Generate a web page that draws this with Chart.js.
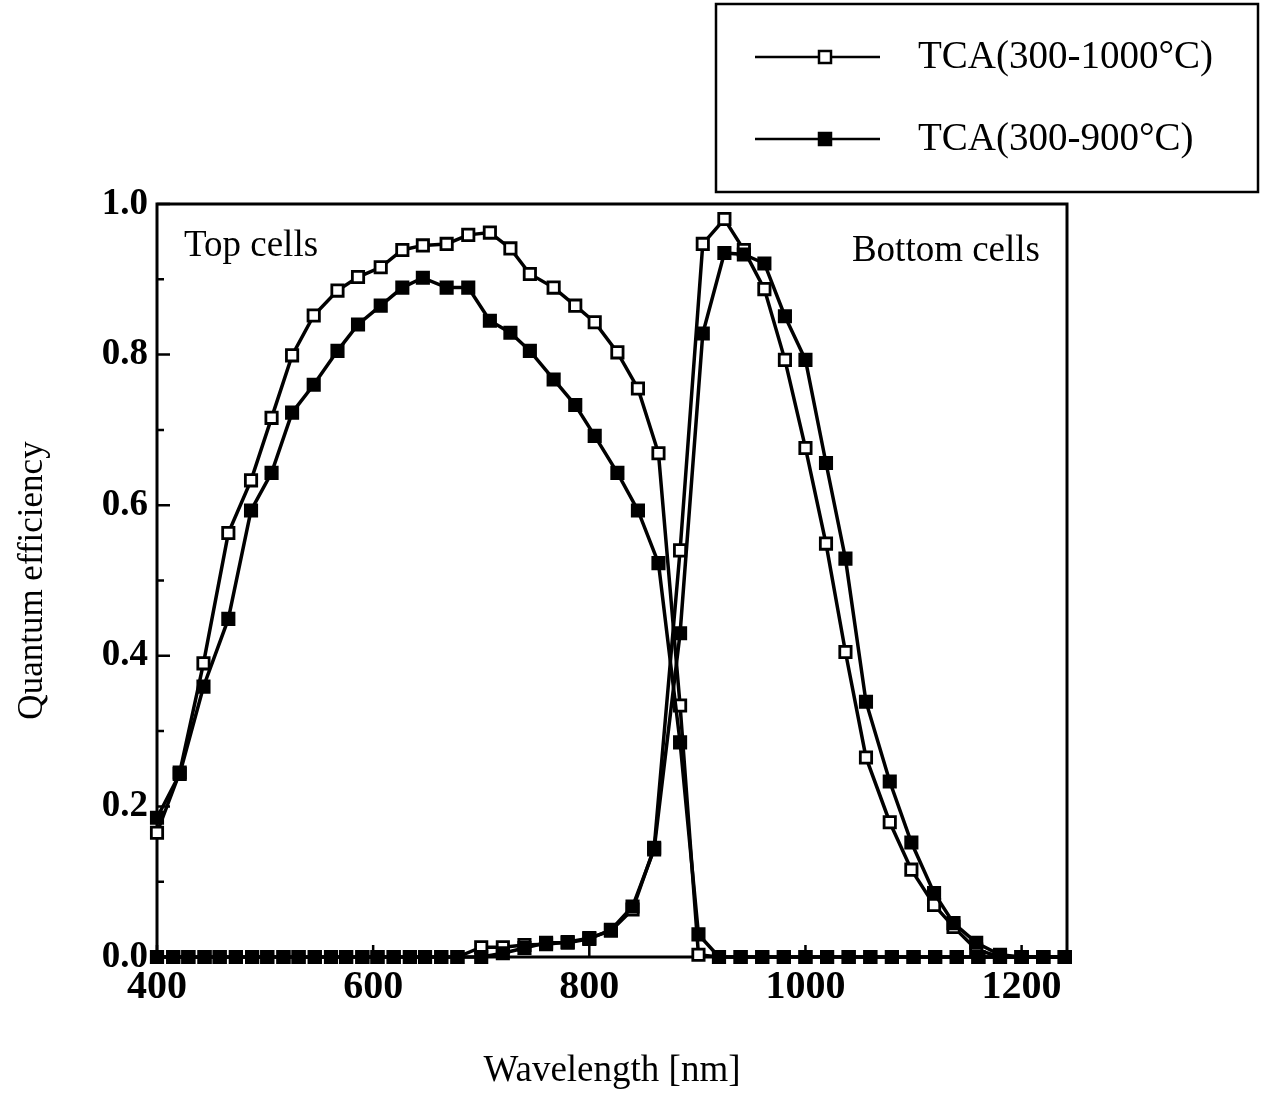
<!DOCTYPE html>
<html>
<head>
<meta charset="utf-8">
<script src="https://cdn.jsdelivr.net/npm/chart.js@4.4.0/dist/chart.umd.min.js"></script>
<style>
  body { margin: 0; background: #fff; }
</style>
</head>
<body>
<canvas id="mycanvas" width="1265" height="1097"></canvas>
<script>
// series names (legend)
var seriesNames = ['TCA(300-1000°C)', 'TCA(300-900°C)'];

// Top cells: wavelength [nm] and quantum efficiency
var topWl = [400, 421, 443, 466, 487, 506, 525, 545, 567, 586, 607, 627, 646, 668, 688, 708, 727, 745, 767, 787,
  805, 826, 845, 864, 884, 901, 920, 940, 960, 980, 1000, 1020, 1040, 1060, 1080, 1100, 1120, 1140, 1160, 1180,
  1200, 1220, 1240];
var top1000 = [0.165, 0.245, 0.39, 0.563, 0.633, 0.716, 0.799, 0.852, 0.885, 0.903, 0.916, 0.939, 0.945, 0.947,
  0.959, 0.962, 0.941, 0.907, 0.889, 0.865, 0.843, 0.803, 0.755, 0.669, 0.334, 0.003,
  0, 0, 0, 0, 0, 0, 0, 0, 0, 0, 0, 0, 0, 0, 0, 0, 0];
var top900 = [0.185, 0.243, 0.359, 0.449, 0.593, 0.643, 0.723, 0.76, 0.805, 0.84, 0.865, 0.889, 0.902, 0.889,
  0.889, 0.845, 0.829, 0.805, 0.767, 0.733, 0.692, 0.643, 0.593, 0.523, 0.285, 0.03,
  0, 0, 0, 0, 0, 0, 0, 0, 0, 0, 0, 0, 0, 0, 0, 0, 0];

// Bottom cells
var bottomWl = [400, 415, 429, 444, 458, 473, 488, 502, 517, 531, 546, 561, 575, 590, 604, 619, 634, 648, 663, 678,
  700, 720, 740, 760, 780, 800, 820, 840, 860, 884, 905, 925, 943, 962, 981, 1000, 1019, 1037, 1056, 1078,
  1098, 1119, 1137, 1158, 1180, 1200, 1220, 1240];
var bottom1000 = [0, 0, 0, 0, 0, 0, 0, 0, 0, 0, 0, 0, 0, 0, 0, 0, 0, 0, 0, 0,
  0.013, 0.013, 0.016, 0.017, 0.02, 0.025, 0.035, 0.063, 0.145, 0.54, 0.947, 0.98, 0.939, 0.887, 0.793, 0.676,
  0.549, 0.405, 0.265, 0.179, 0.116, 0.069, 0.04, 0.01, 0, 0, 0, 0];
var bottom900 = [0, 0, 0, 0, 0, 0, 0, 0, 0, 0, 0, 0, 0, 0, 0, 0, 0, 0, 0, 0,
  0, 0.005, 0.012, 0.019, 0.019, 0.024, 0.036, 0.067, 0.143, 0.43, 0.828, 0.935, 0.933, 0.921, 0.851, 0.793,
  0.656, 0.529, 0.339, 0.233, 0.152, 0.085, 0.045, 0.019, 0.003, 0, 0, 0];

var xTickLabels = [400, 600, 800, 1000, 1200];
var yTickLabels = [0, 0.2, 0.4, 0.6, 0.8, 1.0];

var serif = '"Liberation Serif", "Times New Roman", serif';

function pts(xs, ys) {
  var out = [];
  for (var i = 0; i < xs.length; i++) out.push({x: xs[i], y: ys[i]});
  return out;
}

function series(label, xs, ys, filled) {
  return {
    label: label,
    data: pts(xs, ys),
    borderColor: '#000',
    borderWidth: 3.5,
    backgroundColor: filled ? '#000' : '#fff',
    pointStyle: 'rect',
    pointRadius: 8,
    pointBorderWidth: 2.8,
    pointBorderColor: '#000',
    pointBackgroundColor: filled ? '#000' : '#fff',
    tension: 0,
    clip: false
  };
}

// frame and inward ticks
var frame = {
  id: 'frame',
  beforeDatasetsDraw: function(chart) {
    var ctx = chart.ctx, a = chart.chartArea;
    var xs = chart.scales.x, ys = chart.scales.y;
    ctx.save();
    ctx.strokeStyle = '#000';
    ctx.lineWidth = 3;
    ctx.strokeRect(a.left, a.top, a.right - a.left, a.bottom - a.top);
    ctx.lineWidth = 2.5;
    ctx.beginPath();
    for (var i = 0; i < yTickLabels.length; i++) {
      var y = ys.getPixelForValue(yTickLabels[i]);
      ctx.moveTo(a.left, y); ctx.lineTo(a.left + 13, y);
      if (i < yTickLabels.length - 1) {
        var ym = ys.getPixelForValue((yTickLabels[i] + yTickLabels[i + 1]) / 2);
        ctx.moveTo(a.left, ym); ctx.lineTo(a.left + 7, ym);
      }
    }
    for (var j = 0; j < xTickLabels.length; j++) {
      var x = xs.getPixelForValue(xTickLabels[j]);
      ctx.moveTo(x, a.bottom); ctx.lineTo(x, a.bottom - 12);
      var xm = xs.getPixelForValue(xTickLabels[j] + 100);
      if (xm < a.right) { ctx.moveTo(xm, a.bottom); ctx.lineTo(xm, a.bottom - 7); }
    }
    ctx.stroke();
    ctx.restore();
  }
};

// text labels and boxed legend
var notes = {
  id: 'notes',
  afterDraw: function(chart) {
    var ctx = chart.ctx, a = chart.chartArea;
    ctx.save();
    ctx.fillStyle = '#000';
    ctx.font = '37px ' + serif;
    ctx.textBaseline = 'middle';
    ctx.textAlign = 'left';
    ctx.fillText('Top cells', a.left + 27, a.top + 42);
    ctx.textAlign = 'right';
    ctx.fillText('Bottom cells', a.right - 27, a.top + 47);

    // legend
    ctx.strokeStyle = '#000';
    ctx.lineWidth = 2.5;
    ctx.strokeRect(716, 4, 542, 188);
    var rows = [57, 139];
    for (var i = 0; i < 2; i++) {
      var y = rows[i];
      ctx.lineWidth = 2.5;
      ctx.beginPath(); ctx.moveTo(755, y); ctx.lineTo(880, y); ctx.stroke();
      ctx.fillStyle = i === 0 ? '#fff' : '#000';
      ctx.fillRect(819, y - 6, 12, 12);
      ctx.strokeRect(819, y - 6, 12, 12);
      ctx.fillStyle = '#000';
      ctx.textAlign = 'left';
      ctx.font = '39px ' + serif;
      ctx.fillText(seriesNames[i], 918, y + 1);
    }
    ctx.restore();
  }
};

var ctx = document.getElementById('mycanvas');

var chart = new Chart(ctx, {
  type: 'line',
  data: {
    datasets: [
      series(seriesNames[1], topWl, top900, true),
      series(seriesNames[1], bottomWl, bottom900, true),
      series(seriesNames[0], topWl, top1000, false),
      series(seriesNames[0], bottomWl, bottom1000, false)
    ]
  },
  options: {
    responsive: false,
    animation: false,
    devicePixelRatio: 1,
    layout: { padding: { top: 204, right: 198, left: 0, bottom: 0 } },
    plugins: { legend: { display: false }, tooltip: { enabled: false } },
    scales: {
      x: {
        type: 'linear',
        min: 400,
        max: 1242,
        afterBuildTicks: function(s) { s.ticks = xTickLabels.map(function(v) { return {value: v}; }); },
        afterFit: function(s) { s.height = 140; },
        grid: { display: false, drawTicks: false },
        border: { display: false },
        ticks: {
          color: '#000',
          padding: 7,
          maxRotation: 0,
          font: { family: serif, size: 40, weight: 'bold' },
          callback: function(v) { return String(v); }
        },
        title: {
          display: true,
          text: 'Wavelength [nm]',
          color: '#000',
          padding: { top: 0, bottom: 4 },
          font: { family: serif, size: 37 }
        }
      },
      y: {
        type: 'linear',
        min: 0,
        max: 1,
        afterBuildTicks: function(s) { s.ticks = yTickLabels.map(function(v) { return {value: v}; }); },
        afterFit: function(s) { s.width = 157; },
        grid: { display: false, drawTicks: false },
        border: { display: false },
        ticks: {
          color: '#000',
          padding: 9,
          font: { family: serif, size: 37, weight: 'bold' },
          callback: function(v) { return Number(v).toFixed(1); }
        },
        title: {
          display: true,
          text: 'Quantum efficiency',
          color: '#000',
          padding: { top: 12, bottom: 0 },
          font: { family: serif, size: 35 }
        }
      }
    }
  },
  plugins: [frame, notes]
});
</script>
</body>
</html>
